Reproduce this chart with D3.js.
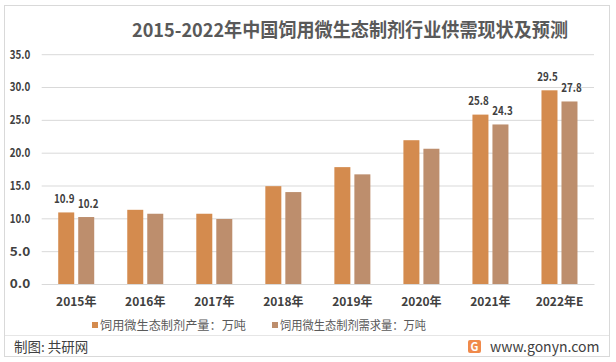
<!DOCTYPE html>
<html><head><meta charset="utf-8">
<script src="https://cdn.jsdelivr.net/npm/d3@7"></script>
<style>
html,body{margin:0;padding:0;background:#fff;}
text{font-family:"Microsoft YaHei","Noto Sans CJK SC","Liberation Sans",sans-serif;}
</style></head>
<body><svg id="c" width="616" height="362"></svg>
<script>
const categories = ["2015年","2016年","2017年","2018年","2019年","2020年","2021年","2022年E"];
const production = [10.9, 11.3, 10.7, 14.9, 17.8, 21.9, 25.8, 29.5];
const demand     = [10.2, 10.7, 9.9, 14.0, 16.7, 20.6, 24.3, 27.8];
const labeled    = [true, false, false, false, false, false, true, true];
const yTicks     = [0, 5, 10, 15, 20, 25, 30, 35];
const seriesNames = ["饲用微生态制剂产量：万吨", "饲用微生态制剂需求量：万吨"];
const colors = ["#D48B4E", "#BD8E6D"];

const svg = d3.select("#c");
svg.append("rect").attr("x",4.5).attr("y",5.5).attr("width",605).attr("height",351)
  .attr("fill","#fff").attr("stroke","#D9D9D9").attr("stroke-width",1);

svg.append("text").attr("x",350).attr("y",37).attr("text-anchor","middle")
  .attr("font-size",19).attr("font-weight","bold").attr("fill","#595959")
  .attr("textLength",436).attr("lengthAdjust","spacingAndGlyphs")
  .text("2015-2022年中国饲用微生态制剂行业供需现状及预测");

const x = d3.scaleBand().domain(categories).range([41.7, 594]).paddingInner(0).paddingOuter(0);
const y = d3.scaleLinear().domain([0, 35]).range([284, 54.2]);
const x1 = d3.scaleBand().domain([0,1]).range([0, 36]).paddingInner(0.2);

// grid
const gy = svg.append("g").attr("transform","translate(41.7,0)")
  .call(d3.axisLeft(y).tickValues(yTicks).tickSize(-(594-41.7)).tickFormat(d3.format(".1f")));
gy.select(".domain").remove();
gy.selectAll(".tick line").attr("stroke","#D9D9D9").attr("stroke-width",1);
gy.selectAll(".tick text").attr("x",-11.5).attr("font-size",12).attr("fill","#404040")
  .attr("font-weight","bold").attr("font-family","'Liberation Sans',sans-serif")
  .attr("textLength",20.5).attr("lengthAdjust","spacingAndGlyphs");

const series = [production, demand];
const labelShift = [-2, 2];
const groups = svg.append("g");
categories.forEach((c,i)=>{
  const gx = x(c) + x.bandwidth()/2 - 18;
  series.forEach((s,k)=>{
    groups.append("rect").attr("x", gx + x1(k)).attr("y", y(s[i]))
      .attr("width", x1.bandwidth()).attr("height", y(0)-y(s[i])).attr("fill", colors[k]);
    if (labeled[i]) {
      groups.append("text").attr("x", gx + x1(k) + x1.bandwidth()/2 + labelShift[k]).attr("y", y(s[i]) - 9.5)
        .attr("text-anchor","middle").attr("font-size",12).attr("font-weight","bold")
        .attr("fill","#404040").attr("font-family","'Liberation Sans',sans-serif")
        .attr("textLength",20.5).attr("lengthAdjust","spacingAndGlyphs")
        .text(d3.format(".1f")(s[i]));
    }
  });
});

// x axis
const gxA = svg.append("g").attr("transform","translate(0,284)")
  .call(d3.axisBottom(x).tickSize(0).tickPadding(0));
gxA.select(".domain").attr("stroke","#D9D9D9");
gxA.selectAll(".tick text").attr("y",22).attr("dy",0).attr("font-size",12).attr("font-weight","bold")
  .attr("fill","#404040");

// legend
const legX = [92, 272];
seriesNames.forEach((n,k)=>{
  svg.append("rect").attr("x",legX[k]).attr("y",322).attr("width",6).attr("height",6).attr("fill",colors[k]);
  svg.append("text").attr("x",legX[k]+8).attr("y",330).attr("font-size",12).attr("fill","#595959")
    .attr("textLength",146).attr("lengthAdjust","spacingAndGlyphs").text(n);
});

svg.append("line").attr("x1",5).attr("x2",609).attr("y1",335.5).attr("y2",335.5).attr("stroke","#E6E6E6");
svg.append("text").attr("x",14).attr("y",352).attr("font-size",13.5).attr("fill","#404040").text("制图: 共研网");

// watermark site
svg.append("rect").attr("x",468).attr("y",340).attr("width",13).attr("height",13).attr("rx",2).attr("fill","#F08A4B");
svg.append("text").attr("x",474.5).attr("y",351).attr("text-anchor","middle").attr("font-size",11)
  .attr("font-weight","bold").attr("fill","#fff").text("G");
svg.append("text").attr("x",490).attr("y",352).attr("font-size",14).attr("fill","#404040").text("www.gonyn.com");
</script></body></html>
